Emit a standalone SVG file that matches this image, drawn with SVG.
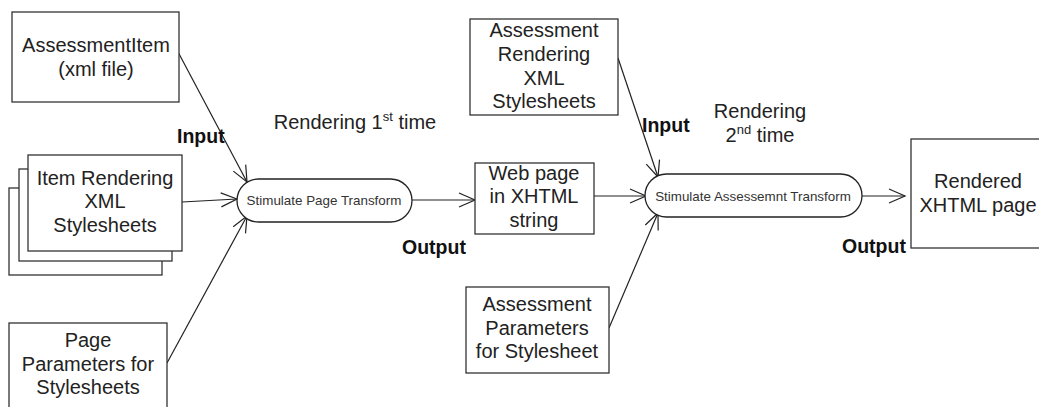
<svg xmlns="http://www.w3.org/2000/svg" width="1039" height="407" viewBox="0 0 1039 407">
  <style>
    .box { fill: #fff; stroke: #333; stroke-width: 1.3; }
    .pill { fill: #fff; stroke: #222; stroke-width: 1.3; }
    .t { font-family: "Liberation Sans", Arial, sans-serif; font-size: 20px; fill: #222; text-anchor: middle; }
    .ts { font-family: "Liberation Sans", Arial, sans-serif; font-size: 13.4px; fill: #333; text-anchor: middle; }
    .lbl { font-family: "Liberation Sans", Arial, sans-serif; font-size: 19.5px; font-weight: bold; fill: #111; }
    .sup { font-size: 13px; }
    .conn { stroke: #222; stroke-width: 1.2; fill: none; marker-end: url(#arrow); }
  </style>
  <defs>
    <marker id="arrow" markerUnits="userSpaceOnUse" viewBox="-18 -9 20 18" markerWidth="20" markerHeight="18" refX="0" refY="0" orient="auto">
      <path d="M-16,-7 L0,0 L-16,7" fill="none" stroke="#222" stroke-width="1.2"/>
    </marker>
  </defs>

  <rect width="1039" height="407" fill="#fff"/>

  <!-- connectors -->
  <g id="connectors">
    <line class="conn" x1="177" y1="50" x2="247" y2="182"/>
    <line class="conn" x1="182" y1="202" x2="237" y2="199"/>
    <line class="conn" x1="167" y1="363" x2="247" y2="216"/>
    <line class="conn" x1="412" y1="200" x2="475" y2="200"/>
    <line class="conn" x1="618" y1="58" x2="658" y2="177"/>
    <line class="conn" x1="594" y1="196" x2="646" y2="196"/>
    <line class="conn" x1="609" y1="328" x2="658" y2="213"/>
    <line class="conn" x1="862" y1="196" x2="905" y2="196"/>
  </g>

  <!-- source item -->
  <g id="assessment-item">
    <rect class="box" x="12" y="12" width="167" height="90"/>
    <text class="t" x="96" y="52">AssessmentItem</text>
    <text class="t" x="96" y="76">(xml file)</text>
  </g>

  <!-- stacked stylesheets -->
  <g id="item-stylesheets">
    <rect class="box" x="9" y="188" width="153" height="87"/>
    <rect class="box" x="19" y="169" width="153" height="92"/>
    <rect class="box" x="28" y="155" width="154" height="96"/>
    <text class="t" x="105" y="185">Item Rendering</text>
    <text class="t" x="105" y="208">XML</text>
    <text class="t" x="105" y="232">Stylesheets</text>
  </g>

  <g id="page-parameters">
    <rect class="box" x="9" y="323" width="158" height="95"/>
    <text class="t" x="88" y="347">Page</text>
    <text class="t" x="88" y="371">Parameters for</text>
    <text class="t" x="88" y="394">Stylesheets</text>
  </g>

  <g id="page-transform">
    <rect class="pill" x="237" y="179" width="175" height="43" rx="21.5" ry="21.5"/>
    <text class="ts" x="324" y="205">Stimulate Page Transform</text>
  </g>

  <g id="web-page">
    <rect class="box" x="475" y="163" width="119" height="71"/>
    <text class="t" x="534" y="180">Web page</text>
    <text class="t" x="534" y="203">in XHTML</text>
    <text class="t" x="534" y="227">string</text>
  </g>

  <g id="assessment-stylesheets">
    <rect class="box" x="470" y="19" width="148" height="96"/>
    <text class="t" x="544" y="37">Assessment</text>
    <text class="t" x="544" y="61">Rendering</text>
    <text class="t" x="544" y="85">XML</text>
    <text class="t" x="544" y="108">Stylesheets</text>
  </g>

  <g id="assessment-parameters">
    <rect class="box" x="466" y="287" width="143" height="86"/>
    <text class="t" x="537" y="311">Assessment</text>
    <text class="t" x="537" y="335">Parameters</text>
    <text class="t" x="537" y="358">for Stylesheet</text>
  </g>

  <g id="assessment-transform">
    <rect class="pill" x="645" y="174" width="217" height="43" rx="21.5" ry="21.5"/>
    <text class="ts" x="753" y="201">Stimulate Assessemnt Transform</text>
  </g>

  <g id="rendered-page">
    <rect class="box" x="911" y="139" width="140" height="109"/>
    <text class="t" x="978" y="188">Rendered</text>
    <text class="t" x="978" y="212">XHTML page</text>
  </g>

  <!-- labels -->
  <g id="labels">
    <text class="lbl" x="177" y="143">Input</text>
    <text class="lbl" x="402" y="254">Output</text>
    <text class="lbl" x="642" y="132">Input</text>
    <text class="lbl" x="842" y="253">Output</text>
    <text class="t" x="355" y="129">Rendering 1<tspan class="sup" dy="-8">st</tspan><tspan dy="8"> time</tspan></text>
    <text class="t" x="760" y="118">Rendering</text>
    <text class="t" x="760" y="142">2<tspan class="sup" dy="-8">nd</tspan><tspan dy="8"> time</tspan></text>
  </g>
</svg>
